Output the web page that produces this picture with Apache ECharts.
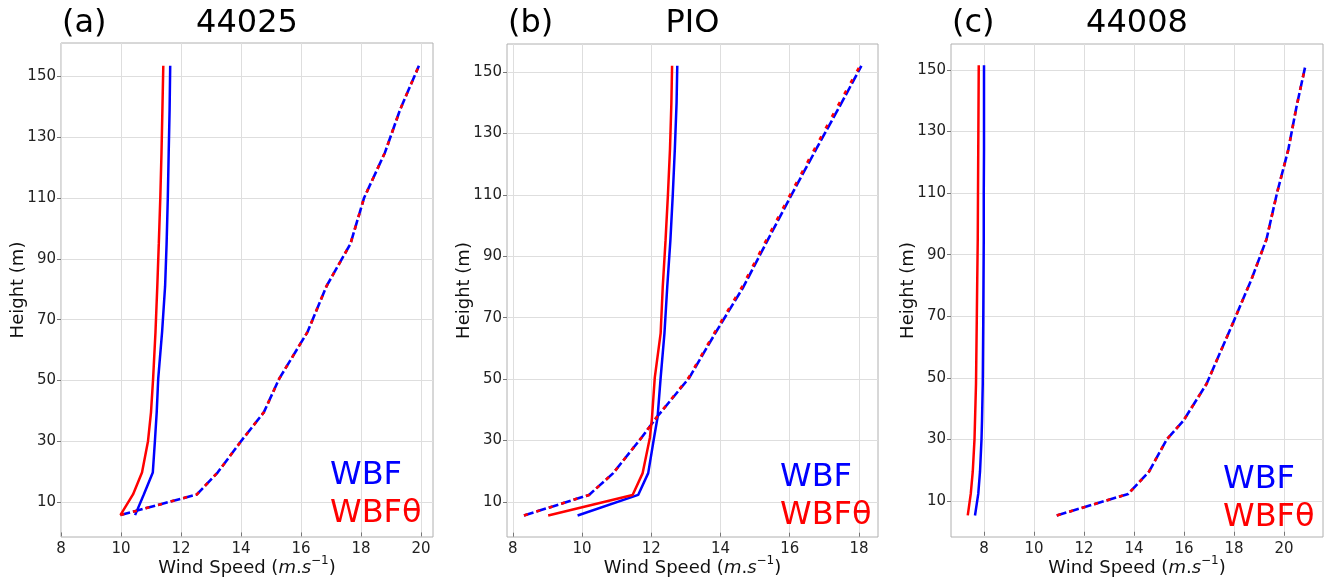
<!DOCTYPE html>
<html>
<head>
<meta charset="utf-8">
<script src="https://cdn.jsdelivr.net/npm/echarts@6/dist/echarts.min.js"></script>
<style>
html,body{margin:0;padding:0;background:#fff;}
#chart{width:1327px;height:582px;}
</style>
</head>
<body>
<div id="chart"></div>
<script>
// ---------- data ----------
const panelLetters = ['(a)', '(b)', '(c)'];
const panelTitles = ['44025', 'PIO', '44008'];
const seriesNames = ['WBF', 'WBFθ'];

const heightsA = [5.7, 12.5, 19.7, 30, 39.5, 50.5, 66, 81, 95, 110, 125, 139, 153.5];
const wbfSolidA   = [10.47, 10.76, 11.06, 11.13, 11.19, 11.24, 11.37, 11.47, 11.52, 11.56, 11.59, 11.62, 11.64];
const wbftSolidA  = [9.98, 10.40, 10.70, 10.90, 11.00, 11.07, 11.15, 11.21, 11.26, 11.31, 11.35, 11.38, 11.41];
const wbfDashA    = [9.98, 12.53, 13.22, 14.00, 14.76, 15.27, 16.22, 16.85, 17.65, 18.10, 18.80, 19.30, 19.93];
const wbftDashA   = [9.98, 12.53, 13.22, 14.00, 14.76, 15.27, 16.22, 16.85, 17.65, 18.10, 18.80, 19.30, 19.93];

const heightsB = [5.6, 12.3, 19.4, 31, 37.5, 50.5, 65, 80, 95, 110, 125, 140, 152];
const wbfSolidB   = [9.87, 11.62, 11.91, 12.08, 12.18, 12.27, 12.38, 12.46, 12.55, 12.62, 12.68, 12.73, 12.75];
const wbftSolidB  = [9.02, 11.46, 11.75, 11.96, 12.02, 12.10, 12.27, 12.33, 12.41, 12.48, 12.54, 12.58, 12.60];
const wbfDashB    = [8.32, 10.20, 10.90, 11.72, 12.15, 13.10, 13.85, 14.66, 15.35, 16.05, 16.77, 17.50, 18.07];
const wbftDashB   = [8.32, 10.20, 10.90, 11.72, 12.15, 13.08, 13.82, 14.62, 15.31, 16.01, 16.72, 17.44, 18.03];

const heightsC = [5.3, 12.3, 19.5, 30, 36, 48, 68, 82, 95, 110, 124, 138, 151.5];
const wbfSolidC   = [7.64, 7.77, 7.84, 7.90, 7.92, 7.95, 7.97, 7.98, 7.99, 7.99, 8.00, 8.00, 8.00];
const wbftSolidC  = [7.35, 7.47, 7.55, 7.62, 7.64, 7.68, 7.71, 7.73, 7.75, 7.76, 7.77, 7.78, 7.79];
const wbfDashC    = [10.91, 13.77, 14.60, 15.31, 15.97, 16.90, 17.97, 18.70, 19.30, 19.72, 20.17, 20.50, 20.86];
const wbftDashC   = [10.91, 13.77, 14.60, 15.31, 15.97, 16.90, 17.97, 18.70, 19.30, 19.72, 20.17, 20.50, 20.86];

const xTicksA = [8, 10, 12, 14, 16, 18, 20];
const xTicksB = [8, 10, 12, 14, 16, 18];
const xTicksC = [8, 10, 12, 14, 16, 18, 20];
const yTicks = [10, 30, 50, 70, 90, 110, 130, 150];

// ---------- layout / style ----------
const FONT = 'DejaVu Sans';
const BLUE = '#0000ff', RED = '#ff0000';
const grids = [
  {left: 61, top: 43, width: 372, height: 494},
  {left: 507, top: 44, width: 371, height: 493},
  {left: 951, top: 44, width: 372, height: 493}
];
const xRanges = [[8.0, 20.4], [7.83, 18.55], [6.68, 21.56]];
const yRanges = [[-1.5, 161], [-1.4, 159.1], [-1.7, 158.4]];
const xTickSets = [xTicksA, xTicksB, xTicksC];
const legendPos = [
  {x: 330, y1: 475.5, y2: 514},
  {x: 780, y1: 478, y2: 516},
  {x: 1223, y1: 480, y2: 518}
];

const panels = [
  {h: heightsA, ws: wbfSolidA, ts: wbftSolidA, wd: wbfDashA, td: wbftDashA},
  {h: heightsB, ws: wbfSolidB, ts: wbftSolidB, wd: wbfDashB, td: wbftDashB},
  {h: heightsC, ws: wbfSolidC, ts: wbftSolidC, wd: wbfDashC, td: wbftDashC}
];
const pairs = (xs, hs) => xs.map((x, i) => [x, hs[i]]);

const option = {
  animation: false,
  backgroundColor: '#ffffff',
  grid: grids.map(g => Object.assign({show: true, borderColor: '#b0b0b0', borderWidth: 1, backgroundColor: 'transparent', containLabel: false, outerBoundsMode: 'none'}, g)),
  xAxis: grids.map((g, i) => ({
    type: 'value', gridIndex: i,
    min: xRanges[i][0], max: xRanges[i][1],
    name: 'Wind Speed ({i|m}.{i|s}{sup|−1})',
    nameLocation: 'middle', nameGap: 18, nameMoveOverlap: false,
    nameTextStyle: {
      fontFamily: FONT, fontSize: 18, color: '#111', lineHeight: 26,
      rich: {
        i: {fontFamily: FONT, fontSize: 18, fontStyle: 'italic', color: '#111', lineHeight: 26},
        sup: {fontFamily: FONT, fontSize: 12, color: '#111', verticalAlign: 'top', lineHeight: 12}
      }
    },
    axisLine: {show: false},
    axisTick: {show: true, length: 4, inside: false, customValues: xTickSets[i], lineStyle: {color: '#777'}},
    axisLabel: {customValues: xTickSets[i], fontFamily: FONT, fontSize: 15, color: '#222', margin: 5},
    splitLine: {show: true, lineStyle: {color: '#dedede', width: 1}}
  })),
  yAxis: grids.map((g, i) => ({
    type: 'value', gridIndex: i,
    min: yRanges[i][0], max: yRanges[i][1],
    name: 'Height (m)', nameLocation: 'middle', nameGap: 34, nameMoveOverlap: false,
    nameTextStyle: {fontFamily: FONT, fontSize: 18, color: '#111'},
    axisLine: {show: false},
    axisTick: {show: true, length: 4, inside: false, customValues: yTicks, lineStyle: {color: '#777'}},
    axisLabel: {customValues: yTicks, fontFamily: FONT, fontSize: 15, color: '#222', margin: 5},
    splitLine: {show: true, lineStyle: {color: '#dedede', width: 1}}
  })),
  series: [],
  graphic: []
};

panels.forEach((p, i) => {
  const base = {type: 'line', xAxisIndex: i, yAxisIndex: i, showSymbol: false, symbol: 'none', smooth: false, silent: true};
  option.series.push(Object.assign({}, base, {name: seriesNames[0], data: pairs(p.ws, p.h), lineStyle: {color: BLUE, width: 2.5}, z: 3}));
  option.series.push(Object.assign({}, base, {name: seriesNames[0] + ' dashed', data: pairs(p.wd, p.h), lineStyle: {color: BLUE, width: 2.6, type: [10, 3]}, z: 3}));
  option.series.push(Object.assign({}, base, {name: seriesNames[1], data: pairs(p.ts, p.h), lineStyle: {color: RED, width: 2.5}, z: 4}));
  option.series.push(Object.assign({}, base, {name: seriesNames[1] + ' dashed', data: pairs(p.td, p.h), lineStyle: {color: RED, width: 2.6, type: [4, 9]}, z: 4}));

  const g = grids[i];
  option.graphic.push({type: 'text', x: g.left + 1, y: 23.5, style: {text: panelLetters[i], fontFamily: FONT, fontSize: 32, fill: '#000', align: 'left', verticalAlign: 'middle'}});
  option.graphic.push({type: 'text', x: g.left + g.width / 2, y: 23.5, style: {text: panelTitles[i], fontFamily: FONT, fontSize: 32, fill: '#000', align: 'center', verticalAlign: 'middle'}});
  const L = legendPos[i];
  option.graphic.push({type: 'text', x: L.x, y: L.y1, z: 10, style: {text: seriesNames[0], fontFamily: FONT, fontSize: 32, fill: BLUE, align: 'left', verticalAlign: 'middle'}});
  option.graphic.push({type: 'text', x: L.x, y: L.y2, z: 10, style: {text: seriesNames[1], fontFamily: FONT, fontSize: 32, fill: RED, align: 'left', verticalAlign: 'middle'}});
});

const chart = echarts.init(document.getElementById('chart'), null, {renderer: 'canvas'});
chart.setOption(option);
</script>
</body>
</html>
